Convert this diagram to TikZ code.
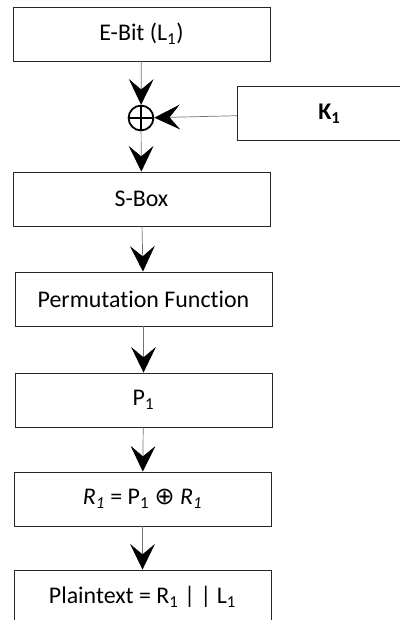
\documentclass[tikz,border=0pt]{standalone}
\usepackage{fontspec}
\setmainfont{Carlito}[Ligatures={NoCommon}]
\newfontfamily\symfont{DejaVu Sans}
\usepackage{tikz}
\usetikzlibrary{arrows.meta,positioning}
\tikzset{
  blk/.style = {draw=black!85, line width=0.6pt, rectangle, minimum width=6.425cm,
    minimum height=1.35cm, inner sep=0pt, font=\fontsize{17}{19}\selectfont},% box of one step
  xr/.style = {circle, draw=black, line width=1.3pt, minimum size=0.62cm, inner sep=0pt,
    path picture={\draw[line width=1.3pt] (path picture bounding box.north) -- (path picture bounding box.south)
      (path picture bounding box.west) -- (path picture bounding box.east);}},% xor
  flow/.style = {draw=black!55, line width=0.5pt,
    -{Stealth[length=0.64cm, width=0.62cm, inset=0.26cm, color=black]}}% arrow between steps
}

\begin{document}
\begin{tikzpicture}[x=0.025cm,y=-0.025cm]
        \clip (0,0) rectangle (400,620);
        \node [blk](ebit) at (141.5,34) {E-Bit (L\textsubscript{1})};
        \node [xr](xor) at (141,118) {};
        \node [blk, anchor=west, minimum width=4.6cm, font=\fontsize{17}{19}\selectfont\bfseries](key) at (237,113.5) {K\textsubscript{1}};
        \node [blk](sbox) at (141.5,199) {S-Box};
        \node [blk](perm) at (143.5,299) {Permutation Function};
        \node [blk](pone) at (143.5,400) {P\textsubscript{1}};
        \node [blk](rone) at (142.5,499) {\textit{R\textsubscript{1}} = P\textsubscript{1} {\symfont ⊕} \textit{R\textsubscript{1}}};
        \node [blk](plain) at (142.5,597) {Plaintext = R\textsubscript{1} | | L\textsubscript{1}};

        \draw [flow] (ebit) -- (xor);
        \draw [flow] (key) -- (xor);
        \draw [flow] (xor) -- (sbox);
        \draw [flow] (sbox) -- (perm);
        \draw [flow] (perm) -- (pone);
        \draw [flow] (pone) -- (rone);
        \draw [flow] (rone) -- (plain);
\end{tikzpicture}
\end{document}
